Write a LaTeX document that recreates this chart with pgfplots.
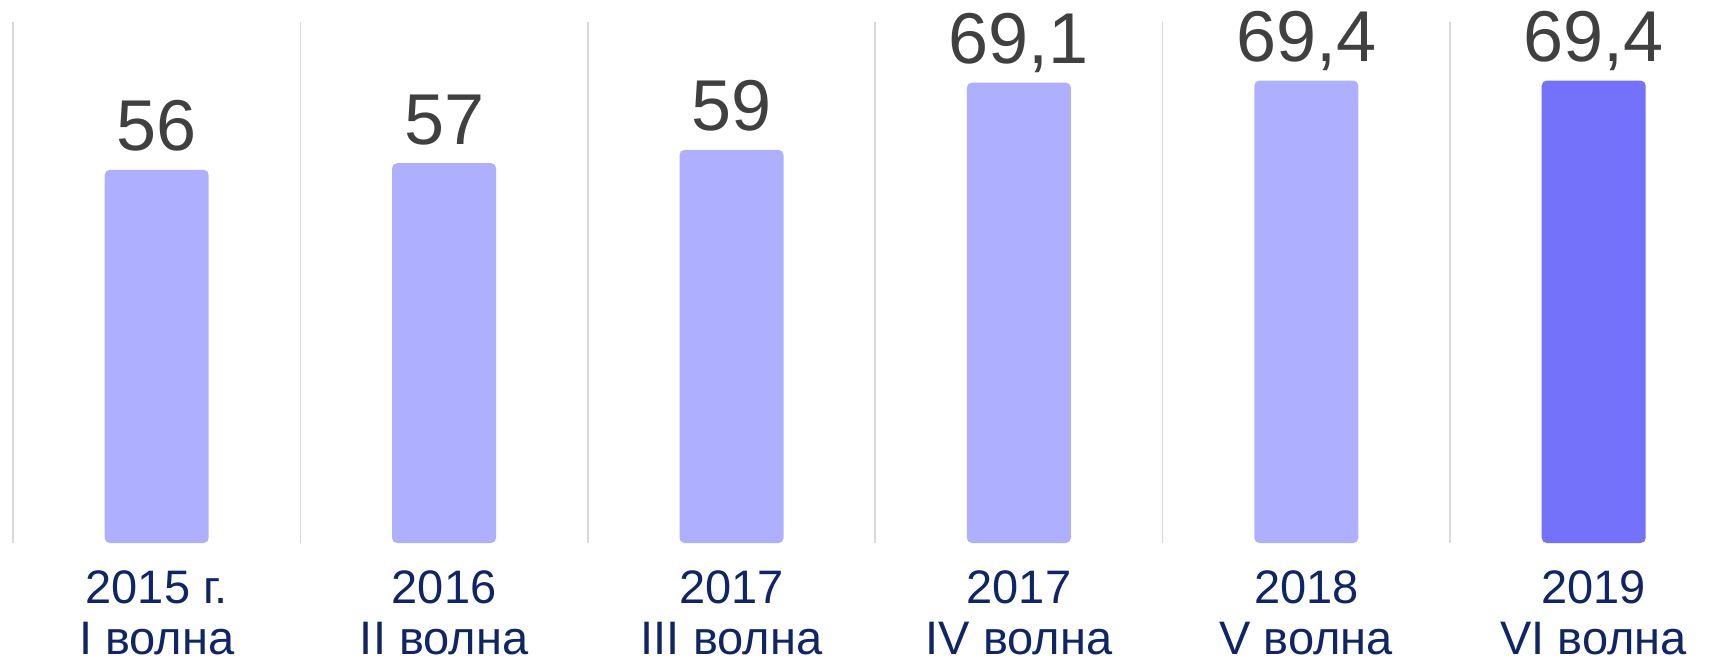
\documentclass[border=0pt]{standalone}
\usepackage{pgfplots}
\pgfplotsset{compat=1.18}
\usepackage{fontspec}
\setmainfont{Liberation Sans}
\definecolor{barlight}{RGB}{175,175,255}
\definecolor{bardark}{RGB}{116,114,250}
\definecolor{valgray}{RGB}{64,64,64}
\definecolor{navy}{RGB}{16,38,100}
\definecolor{gridgray}{RGB}{217,217,217}
\begin{document}
\begin{tikzpicture}
\path[use as bounding box] (0,0) rectangle (858bp,330.5bp);
\begin{axis}[
  at={(6.5bp,59bp)}, anchor=south west,
  scale only axis,
  width=862.2bp, height=260.5bp,
  xmin=-0.5, xmax=5.5, ymin=0, ymax=78.2,
  axis line style={draw=none},
  ytick=\empty,
  xtick={0,1,2,3,4,5},
  xticklabels={{2015 г.\\I волна},{2016\\II волна},{2017\\III волна},{2017\\IV волна},{2018\\V волна},{2019\\VI волна}},
  xticklabel style={align=center, anchor=north, inner sep=0pt, yshift=-13.5bp, font=\fontsize{23.5bp}{25.5bp}\selectfont, text=navy},
  major tick length=0pt,
  minor xtick={-0.5,0.5,1.5,2.5,3.5,4.5},
  minor tick length=0pt,
  minor x grid style={gridgray, line width=0.8bp},
  xminorgrids=true,
  clip=false,
  ybar, bar width=52bp,
  nodes near coords, point meta=explicit symbolic,
  every node near coord/.append style={anchor=base, yshift=9.5bp, inner sep=0pt, font=\fontsize{36bp}{40bp}\selectfont, text=valgray},
]
\addplot[bar shift=0pt, fill=barlight, draw=none, rounded corners=2.5bp]
  coordinates {(0,56) [56] (1,57) [57] (2,59) [59] (3,69.1) [{69,1}] (4,69.4) [{69,4}]};
\addplot[bar shift=0pt, fill=bardark, draw=none, rounded corners=2.5bp]
  coordinates {(5,69.4) [{69,4}]};
\end{axis}
\end{tikzpicture}
\end{document}
